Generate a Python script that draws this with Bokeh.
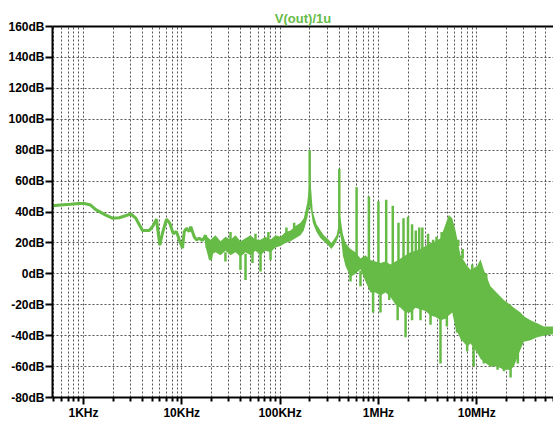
from bokeh.plotting import figure
from bokeh.models import FixedTicker, LogAxis, Range1d
from bokeh.embed import file_html
from bokeh.resources import INLINE

GREEN = "#66bb47"

# ---- data ----
# low-frequency single trace (Hz, dB)
f_lf = [484, 583, 738, 900, 1023, 1180, 1334, 1686, 1972, 2307, 3029, 3404, 3984, 4660,
        5036, 5530, 5972, 6363, 6988, 7550, 8180, 8830, 9416, 10170, 10590, 11170, 11890,
        12350, 13370, 14120, 15040, 16250, 17420, 18130, 19590, 21170]
db_lf = [44, 44.5, 45, 45.5, 45.5, 44.5, 41.5, 38, 36, 36.3, 38.7, 36, 28, 28,
         30.5, 35.3, 18.6, 26.4, 35.3, 32.7, 26, 27.3, 22, 16.6, 27.3, 29.5, 27.3,
         30.5, 24, 22, 23, 21.5, 25, 17.6, 9, 22]

# noise band envelope (Hz, upper dB, lower dB)
f_band = [17.42e3, 19.59e3, 22.02e3, 24.76e3, 27.84e3, 31.29e3, 35.18e3, 39.55e3, 44.46e3,
          50.0e3, 56.2e3, 63.2e3, 71.0e3, 79.9e3, 89.8e3, 101e3, 113.5e3, 127.6e3, 143.4e3,
          161.3e3, 174.2e3, 188.7e3, 200e3, 207.3e3, 215.2e3, 234.6e3, 257.6e3, 278.4e3,
          312.9e3, 331.1e3, 351.8e3, 374.8e3, 392.8e3, 400e3, 418.3e3, 434.4e3, 462.8e3,
          520.2e3, 584.8e3, 657.4e3, 739.2e3, 830.9e3, 934.3e3, 1.050e6, 1.181e6, 1.328e6,
          1.493e6, 1.678e6, 1.887e6, 2.121e6, 2.385e6, 2.681e6, 3.014e6, 3.388e6, 3.809e6,
          4.282e6, 4.815e6, 5.202e6, 5.633e6, 6.085e6, 6.842e6, 8.008e6, 8.648e6, 10.12e6,
          10.93e6, 11.81e6, 13.81e6, 16.16e6, 18.87e6, 22.08e6, 23.85e6, 27.90e6, 30.14e6,
          35.26e6, 41.26e6, 48.15e6, 60.42e6]
db_hi = [25, 22, 25, 21, 24, 22, 25, 21, 23,
         25, 22, 22, 24, 22, 25, 24, 27, 28, 31,
         33, 36, 46, 60, 54, 40, 32, 28, 25,
         22, 20, 22, 25, 31, 40, 33, 26, 20,
         16, 14, 10, 12, 9, 8, 7, 8, 6,
         8, 10, 12, 14, 15, 16, 18, 20, 21,
         23, 32, 38, 36, 28, 12, 5, 2.6, 5,
         9.4, 2.6, -8, -12.5, -17, -20, -22, -25, -27.5,
         -30, -32, -34, -34]
db_lo = [17, 12, 14, 12, 15, 12, 14, 11, 14,
         12, 15, 12, 15, 14, 17, 18, 20, 21, 23,
         25, 28, 36, 44, 40, 33, 27, 23, 21,
         18, 16, 18, 21, 24, 28, 22, 12, 5,
         -2, 0, 3, -5, -12, -12, -14, -12, -15,
         -20, -22, -25, -25, -22, -23, -24, -27, -28,
         -30, -29, -27, -25, -35, -42, -47, -45, -51,
         -55, -57, -60, -60, -62, -62, -60, -49, -44,
         -43, -41, -40, -39]

# upward spikes: harmonics and noise peaks (Hz, top dB, base dB)
spike_f = [31.3e3, 56.2e3, 76e3, 116e3, 139e3,
           200e3, 400e3, 600e3, 800e3, 1.0e6, 1.2e6, 1.4e6, 1.6e6, 1.8e6, 2.0e6,
           2.2e6, 2.4e6, 2.6e6, 2.8e6, 3.2e6, 3.6e6, 3.9e6, 4.4e6, 6.5e6, 7.2e6, 9.0e6, 12.5e6]
spike_top = [27, 26, 27, 30, 33,
             80, 68, 56, 50, 47, 48, 44, 33, 36, 37, 32, 28, 30, 30, 26, 22, 24, 27, 22, 16, 6, 0]
spike_base = [18, 18, 18, 22, 26,
              50, 30, 10, 8, 6, 6, 6, 6, 8, 10, 12, 14, 14, 16, 18, 18, 18, 20, 18, 10, 0, -5]

# downward dips (Hz, bottom dB, base dB)
dip_f = [27.8e3, 39.5e3, 44.5e3, 52.4e3, 63.2e3, 79.9e3,
         520e3, 657e3, 0.883e6, 1.05e6, 1.29e6, 1.57e6, 1.89e6, 2.2e6, 2.68e6, 3.39e6, 4.28e6,
         4.97e6, 6.3e6, 7.1e6, 8.0e6, 9.3e6, 10.2e6, 11.8e6, 13.8e6, 16.3e6, 18.9e6, 22.1e6, 26.2e6]
dip_bottom = [8, 2.5, -4, 7, 1.5, 9,
              -5, -8, -25, -25, -17, -30, -41, -30, -30, -33, -58,
              -34, -38, -43, -50, -60, -51, -58, -60, -62, -63, -67, -58]
dip_base = [14, 13, 13, 14, 13, 15,
            0, 2, -10, -12, -12, -18, -22, -22, -22, -25, -28,
            -28, -32, -38, -44, -45, -48, -55, -58, -58, -60, -60, -50]

x_ticks = [1e3, 1e4, 1e5, 1e6, 1e7]
x_labels = ["1KHz", "10KHz", "100KHz", "1MHz", "10MHz"]
y_ticks = [-80, -60, -40, -20, 0, 20, 40, 60, 80, 100, 120, 140, 160]
y_labels = ["-80dB", "-60dB", "-40dB", "-20dB", "0dB", "20dB", "40dB", "60dB",
            "80dB", "100dB", "120dB", "140dB", "160dB"]
title_text = "V(out)/1u"

# ---- figure ----
p = figure(width=553, height=422, x_axis_type="log",
           x_range=Range1d(484, 60.4e6), y_range=Range1d(-80, 160),
           output_backend="svg", toolbar_location=None,
           min_border_left=52, min_border_right=0, min_border_top=26, min_border_bottom=24)
p.outline_line_color = None
p.background_fill_color = "white"
p.border_fill_color = "white"

p.title.text = title_text
p.title.align = "center"
p.title.text_color = GREEN
p.title.text_font = "Liberation Sans"
p.title.text_font_style = "bold"
p.title.text_font_size = "13px"
p.title.standoff = 2

minor = [k * 10 ** d for d in range(2, 8) for k in range(2, 10)]
p.xaxis.ticker = FixedTicker(ticks=x_ticks, minor_ticks=minor)
p.xaxis.major_label_overrides = dict(zip(x_ticks, x_labels))
p.yaxis.ticker = FixedTicker(ticks=y_ticks)
p.yaxis.major_label_overrides = dict(zip(y_ticks, y_labels))

for ax in (p.xaxis[0], p.yaxis[0]):
    ax.axis_line_width = 2
    ax.axis_line_color = "black"
    ax.major_tick_line_width = 2
    ax.major_tick_line_color = "black"
    ax.minor_tick_line_width = 2
    ax.minor_tick_line_color = "black"
    ax.major_tick_in = 0
    ax.minor_tick_in = 0
    ax.major_label_text_font = "Liberation Sans"
    ax.major_label_text_font_style = "bold"
    ax.major_label_text_font_size = "12px"
    ax.major_label_text_color = "black"

p.xaxis.major_tick_out = 7
p.xaxis.minor_tick_out = 4
p.xaxis.major_label_standoff = 1
p.yaxis.major_tick_out = 7
p.yaxis.minor_tick_out = 0
p.yaxis.major_label_standoff = 1

top = LogAxis(ticker=FixedTicker(ticks=[]), axis_line_width=2, axis_line_color="black",
              major_tick_out=0, minor_tick_out=0, major_tick_in=0, minor_tick_in=0,
              major_label_standoff=0, major_label_text_font_size="0px")
p.add_layout(top, "above")

for g in (p.xgrid[0], p.ygrid[0]):
    g.grid_line_color = "#555555"
    g.grid_line_dash = "2 2"
    g.grid_line_width = 1
p.xgrid.minor_grid_line_color = "#555555"
p.xgrid.minor_grid_line_dash = "2 2"
p.xgrid.minor_grid_line_width = 1

p.varea(x=f_band, y1=db_lo, y2=db_hi, fill_color=GREEN)
p.line(f_lf, db_lf, line_width=3, color=GREEN)
p.segment(x0=spike_f, y0=spike_base, x1=spike_f, y1=spike_top, line_width=2.5, color=GREEN)
p.segment(x0=dip_f, y0=dip_base, x1=dip_f, y1=dip_bottom, line_width=2.5, color=GREEN)

open("out.html", "w").write(file_html(p, INLINE))
